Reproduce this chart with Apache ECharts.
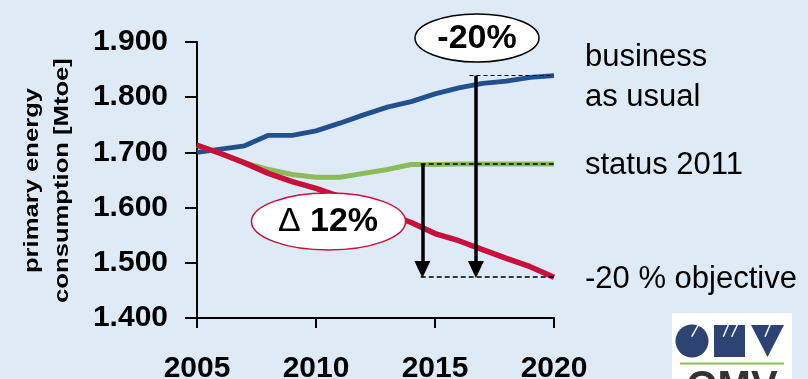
<!DOCTYPE html>
<html>
<head>
<meta charset="utf-8">
<script src="https://cdn.jsdelivr.net/npm/echarts@6/dist/echarts.min.js"></script>
<style>
html,body{margin:0;padding:0;background:#deebf7;}
#c{width:808px;height:379px;}
</style>
</head>
<body>
<div id="c"></div>
<script>
// ---- data (Mtoe) ----
var years = [2005,2006,2007,2008,2009,2010,2011,2012,2013,2014,2015,2016,2017,2018,2019,2020];
var businessAsUsual = [1700,1706,1712,1731,1731,1739,1753,1768,1782,1792,1806,1817,1825,1829,1836,1839];
var status2011 = [1713,1698,1681,1669,1660,1655,1655,1662,1669,1678,1678,1679,1679,1679,1679,1679];
var objective20 = [1713,1698,1681,1662,1647,1635,1620,1604,1589,1573,1553,1540,1524,1508,1493,1474];
var seriesNames = ['business\nas usual', 'status 2011', '-20 % objective'];
var yTickValues = [1400,1500,1600,1700,1800,1900];
var yTickLabels = ['1.400','1.500','1.600','1.700','1.800','1.900'];
var xTickLabels = ['2005','2010','2015','2020'];
var yAxisTitle = 'primary energy\nconsumption [Mtoe]';
var labelMinus20 = '-20%';

function pairs(vals){ return years.map(function(y,i){ return [y, vals[i]]; }); }

var FONT = '"Liberation Sans", Arial, sans-serif';
var chart = echarts.init(document.getElementById('c'));
var navy = '#2d4373';

chart.setOption({
  backgroundColor: '#deebf7',
  animation: false,
  grid: {left: 197, right: 254, top: 42, bottom: 61, containLabel: false, outerBoundsMode: 'none'},
  xAxis: {
    type: 'value', min: 2005, max: 2020, interval: 5,
    axisLine: {lineStyle: {color: '#000', width: 2}},
    axisTick: {show: true, length: 10, lineStyle: {color: '#000', width: 2}},
    splitLine: {show: false},
    axisLabel: {
      margin: 36, color: '#000', fontFamily: FONT, fontWeight: 'bold', fontSize: 30,
      formatter: function(v){ var i = [2005,2010,2015,2020].indexOf(v); return i >= 0 ? xTickLabels[i] : ''; }
    }
  },
  yAxis: {
    type: 'value', min: 1400, max: 1900, interval: 100,
    axisLine: {show: true, lineStyle: {color: '#000', width: 2}},
    axisTick: {show: true, length: 12, lineStyle: {color: '#000', width: 2}},
    splitLine: {show: false},
    axisLabel: {
      margin: 29, color: '#000', fontFamily: FONT, fontWeight: 'bold', fontSize: 30,
      formatter: function(v){ var i = yTickValues.indexOf(v); return i >= 0 ? yTickLabels[i] : ''; }
    }
  },
  series: [
    {name: seriesNames[0], type: 'line', data: pairs(businessAsUsual), symbol: 'none', z: 2,
     lineStyle: {color: '#22508c', width: 4.8}},
    {name: seriesNames[1], type: 'line', data: pairs(status2011), symbol: 'none', z: 3,
     lineStyle: {color: '#8cbb5a', width: 5}},
    {name: seriesNames[2], type: 'line', data: pairs(objective20), symbol: 'none', z: 4,
     lineStyle: {color: '#c8103c', width: 5.5},
     markLine: {
       silent: true, animation: false, symbol: ['none','none'], label: {show: false},
       data: [
         [{coord: [2014.4, 1679], lineStyle: {color:'#000', width:1.5, type:[5,3]}}, {coord: [2020, 1679]}],
         [{coord: [2014.4, 1474], lineStyle: {color:'#000', width:1.5, type:[5,3]}}, {coord: [2020, 1474]}],
         [{coord: [2016.45, 1839], lineStyle: {color:'#000', width:1.2, type:[4,3]}}, {coord: [2020, 1839]}],
         [{coord: [2014.47, 1679], symbol: 'none', lineStyle: {color:'#000', width:3.5, type:'solid'}},
          {coord: [2014.47, 1488], symbol: 'triangle', symbolSize: [16, 17]}],
         [{coord: [2016.72, 1839], symbol: 'none', lineStyle: {color:'#000', width:3.5, type:'solid'}},
          {coord: [2016.72, 1488], symbol: 'triangle', symbolSize: [16, 17]}]
       ]
     }}
  ],
  graphic: [
    {type: 'text', x: 47.5, y: 180.5, rotation: Math.PI / 2, scaleX: 1.22,
     style: {text: yAxisTitle, font: 'bold 21px ' + FONT, fill: '#000', align: 'center', verticalAlign: 'middle', lineHeight: 30}},
    {type: 'ellipse', z: 100, shape: {cx: 477, cy: 38, rx: 62, ry: 24}, style: {fill: '#fff', stroke: '#000', lineWidth: 1.5}},
    {type: 'text', z: 101, x: 477, y: 39, style: {text: labelMinus20, font: 'bold 34px ' + FONT, fill: '#000', align: 'center', verticalAlign: 'middle'}},
    {type: 'ellipse', z: 100, shape: {cx: 328.5, cy: 221.5, rx: 77, ry: 28.5}, style: {fill: '#fff', stroke: '#c8103c', lineWidth: 1.5}},
    {type: 'text', z: 101, x: 328, y: 222, style: {text: '{a|Δ }{b|12%}', align: 'center', verticalAlign: 'middle',
      rich: {a: {font: '34px ' + FONT, fill: '#000'}, b: {font: 'bold 34px ' + FONT, fill: '#000'}}}},
    {type: 'text', x: 585, y: 57, style: {text: 'business', font: '31px ' + FONT, fill: '#000', verticalAlign: 'middle'}},
    {type: 'text', x: 585, y: 97, style: {text: 'as usual', font: '31px ' + FONT, fill: '#000', verticalAlign: 'middle'}},
    {type: 'text', x: 585, y: 165, style: {text: seriesNames[1], font: '31px ' + FONT, fill: '#000', verticalAlign: 'middle'}},
    {type: 'text', x: 585, y: 279, style: {text: seriesNames[2], font: '31px ' + FONT, fill: '#000', verticalAlign: 'middle'}},
    // logo
    {type: 'rect', shape: {x: 672, y: 313, width: 120, height: 70}, style: {fill: '#fff'}},
    {type: 'circle', shape: {cx: 692, cy: 341, r: 16.5}, style: {fill: navy}},
    {type: 'rect', shape: {x: 714, y: 325, width: 31, height: 32}, style: {fill: navy}},
    {type: 'polygon', shape: {points: [[751,325],[784,325],[767.5,357]]}, style: {fill: navy}},
    {type: 'line', shape: {x1: 691.7, y1: 336.7, x2: 698.3, y2: 325}, style: {stroke: '#fff', lineWidth: 1.5}},
    {type: 'line', shape: {x1: 723.3, y1: 336.7, x2: 728.3, y2: 325}, style: {stroke: '#fff', lineWidth: 1.5}},
    {type: 'line', shape: {x1: 731.7, y1: 336.7, x2: 737.3, y2: 325}, style: {stroke: '#fff', lineWidth: 1.5}},
    {type: 'line', shape: {x1: 765, y1: 336.7, x2: 770, y2: 325}, style: {stroke: '#fff', lineWidth: 1.5}},
    {type: 'line', shape: {x1: 680, y1: 363.5, x2: 784, y2: 363.5}, style: {stroke: '#8cc04a', lineWidth: 2}},
    {type: 'text', x: 732, y: 368, style: {text: 'OMV', font: 'bold 40px ' + FONT, fill: '#333', align: 'center', verticalAlign: 'top'}}
  ]
});
</script>
</body>
</html>
